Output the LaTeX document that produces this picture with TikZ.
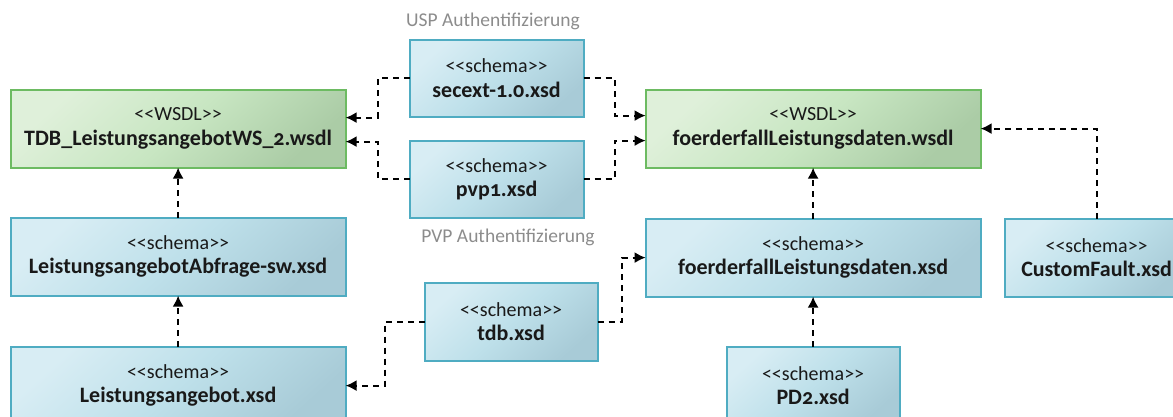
\documentclass[tikz,border=0pt]{standalone}
\usepackage{fontspec}
\setmainfont[Numbers=OldStyle]{Carlito}
\usetikzlibrary{arrows.meta}
\definecolor{sbl}{HTML}{D8EDF4}
\definecolor{sbm}{HTML}{BEE0EA}
\definecolor{sbr}{HTML}{A8CBD7}
\definecolor{sbd}{HTML}{4FACC2}
\definecolor{wbl}{HTML}{DFF0DA}
\definecolor{wbm}{HTML}{C8E6C2}
\definecolor{wbr}{HTML}{ABCCA6}
\definecolor{wbd}{HTML}{6DBB62}
\definecolor{lbl}{HTML}{8C8C8C}
\tikzset{
  boxbase/.style={anchor=north west,align=center,line width=2pt,inner sep=0pt,outer sep=0pt,
    xshift=0.6pt,yshift=-0.6pt,font=\fontsize{20}{24.5}\selectfont,text=black!90},
  schemabox/.style={boxbase,draw=sbd,left color=sbl,right color=sbr,middle color=sbm,shading angle=42},
  wsdlbox/.style={boxbase,draw=wbd,left color=wbl,right color=wbr,middle color=wbm,shading angle=42},
  dep/.style={dash pattern=on 6pt off 5pt,line width=1.8pt,-{Latex[length=11pt,width=11pt]},black},
  note/.style={text=lbl,font=\fontsize{19.5}{20}\selectfont,inner sep=0pt}
}
\newcommand{\bx}[2]{<{}<#1>{}>\\\textbf{\fontsize{22}{24.5}\selectfont #2}}
\begin{document}
\begin{tikzpicture}[x=1pt,y=-1pt]
\useasboundingbox (0,0) rectangle (1173,416);
\node[wsdlbox,minimum width=335pt,minimum height=78pt] (wl) at (10,89) {\bx{WSDL}{TDB\_LeistungsangebotWS\_2.wsdl}};
\node[wsdlbox,minimum width=335pt,minimum height=78pt] (wr) at (645,89) {\bx{WSDL}{foerderfallLeistungsdaten.wsdl}};
\node[schemabox,minimum width=174pt,minimum height=77pt] (sec) at (409,39) {\bx{schema}{secext-1.0.xsd}};
\node[schemabox,minimum width=174pt,minimum height=77pt] (pvp) at (409,140) {\bx{schema}{pvp1.xsd}};
\node[schemabox,minimum width=335pt,minimum height=78pt] (abf) at (10,217) {\bx{schema}{LeistungsangebotAbfrage-sw.xsd}};
\node[schemabox,minimum width=335pt,minimum height=78pt] (ang) at (10,346) {\bx{schema}{Leistungsangebot.xsd}};
\node[schemabox,minimum width=173pt,minimum height=78pt] (tdb) at (424,282) {\bx{schema}{tdb.xsd}};
\node[schemabox,minimum width=335pt,minimum height=78pt] (fl) at (645,218) {\bx{schema}{foerderfallLeistungsdaten.xsd}};
\node[schemabox,minimum width=184pt,minimum height=78pt] (cf) at (1004,218) {\bx{schema}{CustomFault.xsd}};
\node[schemabox,minimum width=173pt,minimum height=78pt] (pd) at (726,346) {\bx{schema}{PD2.xsd}};
\node[note] (usp) at (493,21) {USP Authentifizierung};
\node[note] (pvpn) at (508,237) {PVP Authentifizierung};
\draw[dep] (sec.west) -- ++(-32,0) |- ([yshift=11pt]wl.east);
\draw[dep] (pvp.west) -- ++(-32,0) |- ([yshift=-13pt]wl.east);
\draw[dep] (sec.east) -- ++(31,0) |- ([yshift=13pt]wr.west);
\draw[dep] (pvp.east) -- ++(31,0) |- ([yshift=-12pt]wr.west);
\draw[dep] (abf.north) -- (wl.south);
\draw[dep] (ang.north) -- (abf.south);
\draw[dep] (tdb.west) -- ++(-40,0) |- (ang.east);
\draw[dep] (tdb.east) -- ++(24,0) |- (fl.west);
\draw[dep] (fl.north) -- (wr.south);
\draw[dep] (pd.north) -- (fl.south);
\draw[dep] (cf.north) |- (wr.east);
\end{tikzpicture}
\end{document}
